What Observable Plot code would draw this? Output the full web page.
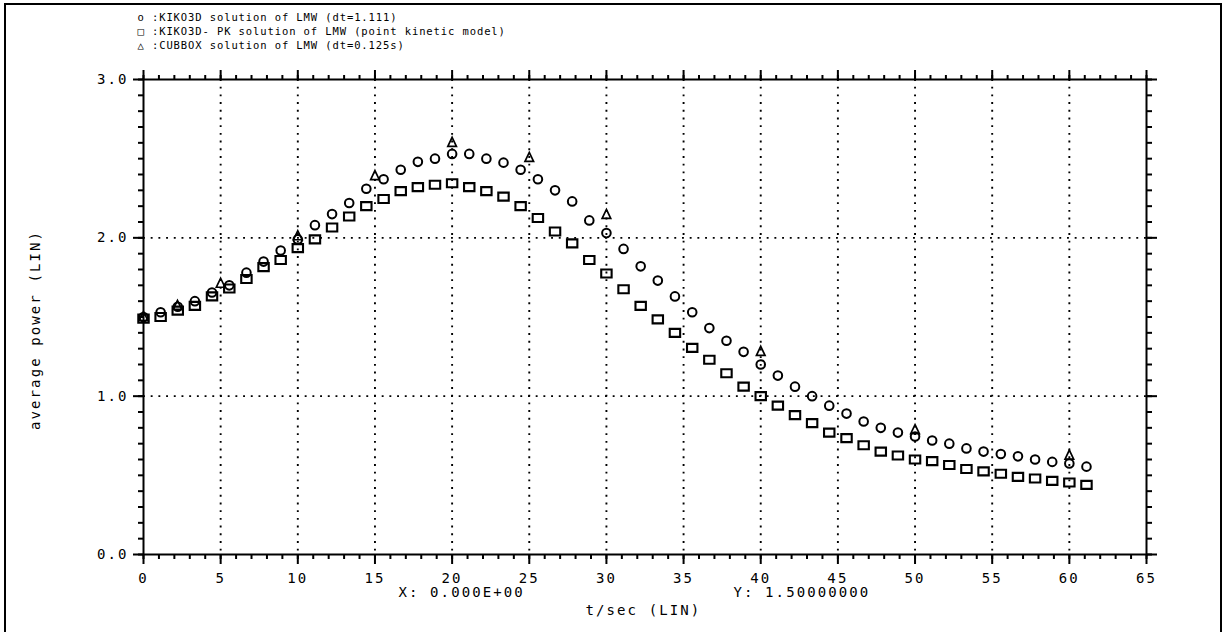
<!DOCTYPE html>
<html><head><meta charset="utf-8">
<script src="https://cdn.jsdelivr.net/npm/d3@7"></script>
<script src="https://cdn.jsdelivr.net/npm/@observablehq/plot@0.6"></script>
<style>
body{margin:0;background:#fff;}
#wrap{position:relative;width:1224px;height:632px;overflow:hidden;}
#border{position:absolute;left:4px;top:3px;width:1214px;height:700px;border:2px solid #000;border-bottom:none;pointer-events:none;}
svg text{letter-spacing:2.1px;}
g[font-size="10.5"] text{letter-spacing:0.9px;}
</style></head><body>
<div id="wrap"><div id="border"></div></div>
<script>
// time points of the KIKO3D / PK series (dt = 1.111 s)
const tKiko = [0,1.11,2.22,3.33,4.44,5.56,6.67,7.78,8.89,10.0,11.11,12.22,13.33,14.44,15.56,16.67,17.78,18.89,20.0,21.11,22.22,23.33,24.44,25.56,26.67,27.78,28.89,30.0,31.11,32.22,33.33,34.44,35.56,36.67,37.78,38.89,40.0,41.11,42.22,43.33,44.44,45.56,46.67,47.78,48.89,50.0,51.11,52.22,53.33,54.44,55.56,56.67,57.78,58.89,60.0,61.11];
// KIKO3D solution (circles)
const pKiko = [1.50,1.53,1.565,1.60,1.655,1.70,1.78,1.85,1.92,1.99,2.08,2.15,2.22,2.31,2.37,2.43,2.48,2.50,2.53,2.53,2.50,2.475,2.43,2.37,2.30,2.23,2.11,2.03,1.93,1.82,1.73,1.63,1.53,1.43,1.35,1.28,1.20,1.13,1.06,1.00,0.94,0.89,0.84,0.80,0.77,0.745,0.72,0.70,0.67,0.65,0.635,0.62,0.60,0.585,0.575,0.555];
// KIKO3D- PK solution (squares)
const pPK = [1.49,1.50,1.54,1.57,1.63,1.68,1.74,1.815,1.86,1.935,1.99,2.065,2.135,2.20,2.245,2.295,2.32,2.335,2.345,2.32,2.295,2.26,2.20,2.125,2.04,1.965,1.86,1.775,1.675,1.57,1.485,1.40,1.305,1.23,1.145,1.06,1.00,0.94,0.88,0.83,0.77,0.735,0.69,0.65,0.625,0.60,0.59,0.565,0.54,0.525,0.51,0.49,0.48,0.465,0.455,0.44];
// CUBBOX solution (triangles)
const tCub = [0,2.2,5,10,15,20,25,30,40,50,60];
const pCub = [1.50,1.57,1.71,2.01,2.39,2.60,2.505,2.145,1.28,0.785,0.625];

const xMajor = [0,5,10,15,20,25,30,35,40,45,50,55,60,65];
const yMajor = [0,1,2,3];
const xGrid = [5,10,15,20,25,30,35,40,45,50,55,60];
const yGrid = [1,2];
const xMinor = d3.range(0, 65.001, 1);
const yMinor = d3.range(0, 3.0001, 0.1);

const legendLines = [
  "o :KIKO3D solution of LMW (dt=1.111)",
  "\u25A1 :KIKO3D- PK solution of LMW (point kinetic model)",
  "\u25B3 :CUBBOX solution of LMW (dt=0.125s)"
];
const xLabel = "t/sec (LIN)";
const yLabel = "average power (LIN)";
const cursorX = "X: 0.000E+00";
const cursorY = "Y: 1.50000000";

const kiko = tKiko.map((t, i) => ({t, p: pKiko[i]}));
const pk = tKiko.map((t, i) => ({t, p: pPK[i]}));
const cub = tCub.map((t, i) => ({t, p: pCub[i]}));

const rectSym = {draw(ctx) { ctx.moveTo(-5.2, -4); ctx.lineTo(5.2, -4); ctx.lineTo(5.2, 4); ctx.lineTo(-5.2, 4); ctx.closePath(); }};
const triSym = {draw(ctx) { ctx.moveTo(0, -5.5); ctx.lineTo(4.3, 3.5); ctx.lineTo(-4.3, 3.5); ctx.closePath(); }};
const blank = () => "";

const chart = Plot.plot({
  width: 1224, height: 632,
  marginLeft: 143, marginRight: 78, marginTop: 79, marginBottom: 78,
  x: {domain: [0, 65]},
  y: {domain: [0, 3]},
  style: {fontFamily: "DejaVu Sans Mono", fontSize: "14px", color: "black", background: "transparent", overflow: "visible"},
  marks: [
    Plot.gridX({ticks: xGrid, stroke: "black", strokeOpacity: 1, strokeWidth: 1.9, strokeDasharray: "1.9,5.8"}),
    Plot.gridY({ticks: yGrid, stroke: "black", strokeOpacity: 1, strokeWidth: 1.9, strokeDasharray: "1.9,5.8"}),
    Plot.axisX({ticks: xMinor, tickSize: 5, tickFormat: blank, label: null, strokeWidth: 2}),
    Plot.axisX({ticks: xMajor, tickSize: 10, tickPadding: 9, tickFormat: d => String(d), label: null, strokeWidth: 2}),
    Plot.axisX({anchor: "top", ticks: xMinor, tickSize: 5, tickFormat: blank, label: null, strokeWidth: 2}),
    Plot.axisX({anchor: "top", ticks: xMajor, tickSize: 10, tickFormat: blank, label: null, strokeWidth: 2}),
    Plot.axisY({ticks: yMinor, tickSize: 5, tickFormat: blank, label: null, strokeWidth: 2}),
    Plot.axisY({ticks: yMajor, tickSize: 10, tickPadding: 5, tickFormat: d3.format(".1f"), label: null, strokeWidth: 2}),
    Plot.axisY({anchor: "right", ticks: yMinor, tickSize: 5, tickFormat: blank, label: null, strokeWidth: 2}),
    Plot.axisY({anchor: "right", ticks: yMajor, tickSize: 10, tickFormat: blank, label: null, strokeWidth: 2}),
    Plot.frame({stroke: "black", strokeWidth: 2}),
    Plot.dot(pk, {x: "t", y: "p", symbol: rectSym, stroke: "black", fill: "none", strokeWidth: 2.1}),
    Plot.dot(kiko, {x: "t", y: "p", symbol: "circle", r: 4.3, stroke: "black", fill: "none", strokeWidth: 2}),
    Plot.dot(cub, {x: "t", y: "p", symbol: triSym, stroke: "black", fill: "none", strokeWidth: 1.7}),
    Plot.text([legendLines.join("\n")], {frameAnchor: "top-left", textAnchor: "start", lineAnchor: "top", dx: -6, dy: -69, fontSize: 10.5, lineHeight: 1.34, fill: "black"}),
    Plot.text([yLabel], {frameAnchor: "left", rotate: -90, textAnchor: "middle", lineAnchor: "middle", dx: -108, dy: 13, fill: "black"}),
    Plot.text([cursorX], {frameAnchor: "bottom-left", textAnchor: "start", lineAnchor: "top", dx: 255, dy: 33, fill: "black"}),
    Plot.text([cursorY], {frameAnchor: "bottom-left", textAnchor: "start", lineAnchor: "top", dx: 590, dy: 33, fill: "black"}),
    Plot.text([xLabel], {frameAnchor: "bottom-left", textAnchor: "start", lineAnchor: "top", dx: 442, dy: 51, fill: "black"})
  ]
});
document.getElementById("wrap").prepend(chart);
</script>
</body></html>
